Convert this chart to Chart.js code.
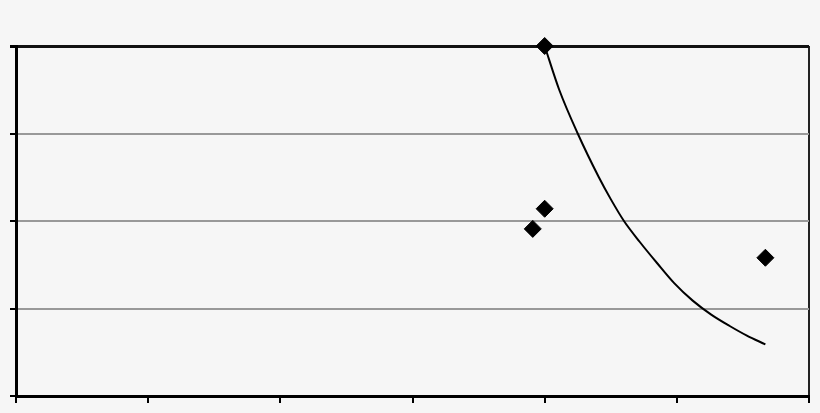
<!DOCTYPE html>
<html>
<head>
<meta charset="utf-8">
<script src="https://cdn.jsdelivr.net/npm/chart.js@4"></script>
<style>
  html, body { margin: 0; padding: 0; background: #f6f6f6; }
  #wrap { width: 820px; height: 413px; }
</style>
</head>
<body>
<div id="wrap"><canvas id="chart"></canvas></div>
<script>
// measured points (diamonds)
const pointX = [4.0, 4.0, 3.91, 5.67];
const pointY = [4.0, 2.14, 1.91, 1.58];

// fitted curve
const curveX = [4.0, 4.11, 4.25, 4.41, 4.5, 4.6, 4.72, 4.85, 4.98, 5.12, 5.26, 5.4, 5.53, 5.67];
const curveY = [4.0, 3.5, 3.0, 2.5, 2.25, 2.0, 1.76, 1.52, 1.29, 1.09, 0.93, 0.8, 0.69, 0.59];

const xTicks = [0, 1, 2, 3, 4, 5, 6];
const yTicks = [0, 1, 2, 3, 4];

new Chart(document.getElementById("chart"), {
  type: "scatter",
  data: {
    datasets: [
      {
        label: "Curve",
        data: curveX.map((x, i) => ({ x: x, y: curveY[i] })),
        showLine: true,
        borderColor: "#000",
        borderWidth: 2,
        pointRadius: 0,
        cubicInterpolationMode: "monotone",
        clip: false,
      },
      {
        label: "Points",
        data: pointX.map((x, i) => ({ x: x, y: pointY[i] })),
        pointStyle: "rectRot",
        pointRadius: 8.5,
        backgroundColor: "#000",
        borderColor: "#000",
        borderWidth: 1,
        clip: false,
      },
    ],
  },
  options: {
    responsive: true,
    maintainAspectRatio: false,
    animation: false,
    layout: { autoPadding: false, padding: { left: 10, right: 11, top: 46, bottom: 10 } },
    plugins: { legend: { display: false }, tooltip: { enabled: false } },
    scales: {
      x: {
        type: "linear",
        min: 0,
        max: 6,
        afterBuildTicks: (axis) => { axis.ticks = xTicks.map((v) => ({ value: v })); },
        ticks: { display: false },
        border: { color: "#000", width: 3 },
        grid: {
          color: (ctx) => (ctx.tick && ctx.tick.value === 6 ? "#222" : "rgba(0,0,0,0)"),
          tickColor: "#000",
          lineWidth: 2,
          tickLength: 7,
        },
      },
      y: {
        min: 0,
        max: 4,
        afterBuildTicks: (axis) => { axis.ticks = yTicks.map((v) => ({ value: v })); },
        ticks: { display: false },
        border: { color: "#000", width: 3 },
        grid: {
          color: (ctx) => (ctx.tick && ctx.tick.value === 4 ? "#111" : "#999"),
          lineWidth: (ctx) => (ctx.tick && ctx.tick.value === 4 ? 3 : 2),
          tickColor: "#000",
          tickLength: 6,
        },
      },
    },
  },
});
</script>
</body>
</html>
